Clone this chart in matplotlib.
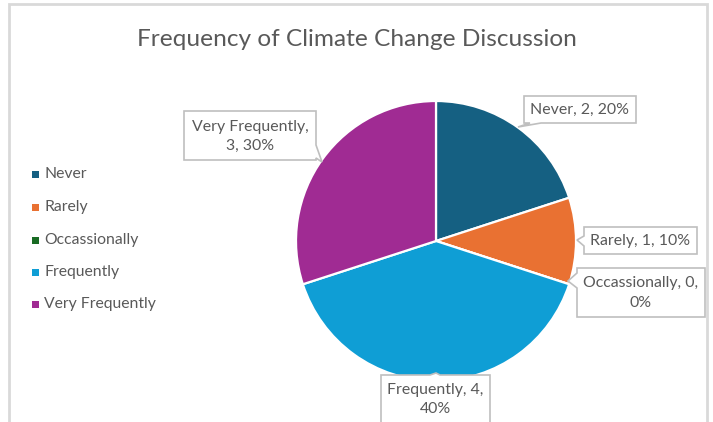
import matplotlib
matplotlib.use("Agg")
import matplotlib.pyplot as plt
from matplotlib.patches import Polygon, Rectangle

categories = ["Never", "Rarely", "Occassionally", "Frequently", "Very Frequently"]
counts = [2, 1, 0, 4, 3]
colors = ["#156082", "#E97132", "#196B24", "#0F9ED5", "#A02B93"]
title = "Frequency of Climate Change Discussion"

W, H = 713, 422
FONT = "Lato"
TXT = "#595959"
EDGE = "#BFBFBF"
LBL = 11.4
LS = 1.5

fig = plt.figure(figsize=(W / 100, H / 100), dpi=100)
ax = fig.add_axes([0, 0, 1, 1])
ax.set_xlim(0, W)
ax.set_ylim(0, H)
ax.set_axis_off()


def Y(y):
    """Convert a top-down pixel row into the axes' bottom-up coordinate."""
    return H - y


# chart frame
ax.add_patch(Rectangle((9, Y(450)), 698, 450 - 4, fill=False,
                       edgecolor="#D9D9D9", linewidth=2, zorder=1))

ax.text(357, Y(39), title, ha="center", va="center", fontsize=17.6,
        color=TXT, family=FONT)

# pie
cx, cy, r = 436, Y(241), 140
total = sum(counts)
wedges, _ = ax.pie(counts, colors=colors, startangle=90, counterclock=False,
                   center=(cx, cy), radius=r, frame=True,
                   wedgeprops=dict(edgecolor="white", linewidth=1.6))
for w in wedges:
    w.set_zorder(2)
ax.set_xlim(0, W)
ax.set_ylim(0, H)
ax.set_aspect("auto")
ax.set_axis_off()

# legend
leg_y = [174, 207, 240, 272, 304]
for cat, col, yy in zip(categories, colors, leg_y):
    ax.add_patch(Rectangle((32, Y(yy) - 3.5), 7, 7, facecolor=col,
                           edgecolor="none", zorder=3))
    ax.text(44, Y(yy), cat, ha="left", va="center", fontsize=11.3,
            color=TXT, family=FONT)


def callout(x0, y0, x1, y1, side, b0, b1, tip):
    """Box (pixel rows top-down) with a pointer notch on one side."""
    tx, ty = tip
    if side == "left":
        pts = [(x0, y0), (x1, y0), (x1, y1), (x0, y1), (x0, b1), (tx, ty), (x0, b0)]
    elif side == "bottom":
        pts = [(x0, y0), (x1, y0), (x1, y1), (b1, y1), (tx, ty), (b0, y1), (x0, y1)]
    elif side == "right":
        pts = [(x0, y0), (x1, y0), (x1, b0), (tx, ty), (x1, b1), (x1, y1), (x0, y1)]
    else:
        pts = [(x0, y0), (b0, y0), (tx, ty), (b1, y0), (x1, y0), (x1, y1), (x0, y1)]
    ax.add_patch(Polygon([(px, Y(py)) for px, py in pts], closed=True,
                         facecolor="white", edgecolor=EDGE, linewidth=1.2,
                         zorder=4))


def label(i, lines):
    pct = round(100 * counts[i] / total)
    return lines.format(c=categories[i], v=counts[i], p=pct)


# Never
callout(524, 96, 636, 123, "bottom", 530, 541, (518, 127))
ax.text(580, Y(110), label(0, "{c}, {v}, {p}%"), ha="center", va="center",
        fontsize=LBL, color=TXT, family=FONT, zorder=5)
# Rarely
callout(584, 227, 697, 254, "left", 236, 246, (577, 240))
ax.text(640.5, Y(241), label(1, "{c}, {v}, {p}%"), ha="center", va="center",
        fontsize=LBL, color=TXT, family=FONT, zorder=5)
# Occassionally
callout(577, 268, 705, 317, "left", 273, 288, (568, 281))
ax.text(641, Y(293), label(2, "{c}, {v},\n{p}%"), ha="center", va="center",
        fontsize=LBL, color=TXT, family=FONT, zorder=5, linespacing=LS)
# Frequently
callout(381, 375, 490, 430, "top", 430, 440, (436, 373))
ax.text(435.5, Y(399.5), label(3, "{c}, {v},\n{p}%"), ha="center", va="center",
        fontsize=LBL, color=TXT, family=FONT, zorder=5, linespacing=LS)
# Very Frequently
callout(184, 111, 316, 160, "right", 145, 158, (322, 162))
ax.text(250, Y(136.5), label(4, "{c},\n{v}, {p}%"), ha="center", va="center",
        fontsize=LBL, color=TXT, family=FONT, zorder=5, linespacing=LS)

fig.savefig("out.png", dpi=100)
